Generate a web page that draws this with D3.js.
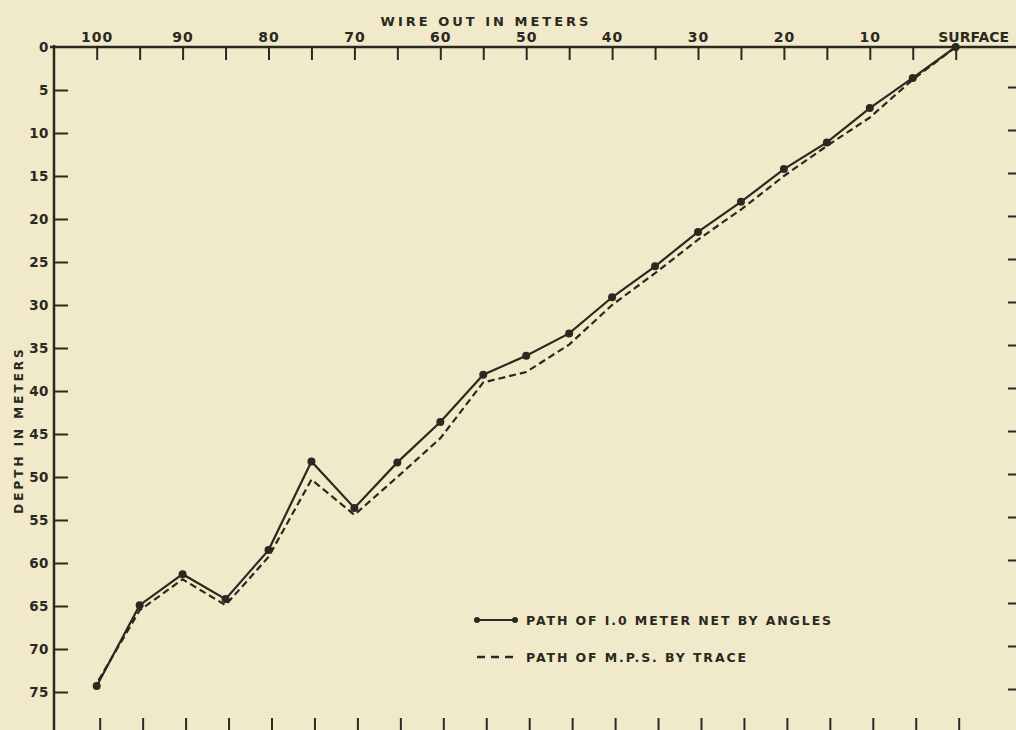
<!DOCTYPE html>
<html>
<head>
<meta charset="utf-8">
<script src="https://cdn.jsdelivr.net/npm/d3@7"></script>
<style>
  html, body { margin: 0; padding: 0; background: #f0eaca; }
  svg { display: block; }
  text { font-family: "DejaVu Sans", sans-serif; font-weight: bold; fill: #2b2820; }
</style>
</head>
<body>
<svg width="1016" height="730"></svg>
<script>
// wire out (m) at each reading, depth of the 1.0 m net (by angles) and of the M.P.S. (by trace)
const wireOut = [0, 5, 10, 15, 20, 25, 30, 35, 40, 45, 50, 55, 60, 65, 70, 75, 80, 85, 90, 95, 100];
const netDepth = [0, 3.6, 7.1, 11.1, 14.2, 18.0, 21.5, 25.5, 29.1, 33.3, 35.9, 38.1, 43.6, 48.3, 53.6, 48.2, 58.5, 64.2, 61.3, 64.9, 74.3];
const mpsDepth = [0, 3.8, 8.2, 11.5, 15.0, 18.9, 22.4, 26.3, 30.0, 34.6, 37.8, 39.0, 45.5, 50.0, 54.4, 50.3, 59.3, 64.9, 61.9, 65.5, 74.0];

const xTicks = d3.range(0, 101, 5);
const xLabels = {0: 'SURFACE', 10: '10', 20: '20', 30: '30', 40: '40', 50: '50', 60: '60', 70: '70', 80: '80', 90: '90', 100: '100'};
const yTicks = d3.range(0, 76, 5);
const legendLabels = ['PATH OF I.0 METER NET BY ANGLES', 'PATH OF M.P.S. BY TRACE'];

const ink = '#2b2820';
let svg = d3.select('svg');

let x = d3.scaleLinear().domain([0, 100]).range([955.7, 96.7]);
let y = d3.scaleLinear().domain([0, 75]).range([47, 692]);

// frame lines
svg.append('line').attr('x1', 50).attr('x2', 1016).attr('y1', 47).attr('y2', 47)
  .attr('stroke', ink).attr('stroke-width', 2.5);
svg.append('line').attr('x1', 54).attr('x2', 54).attr('y1', 45).attr('y2', 730)
  .attr('stroke', ink).attr('stroke-width', 2.5);

// top axis (wire out)
let topAxis = svg.append('g').attr('transform', 'translate(0,47)')
  .call(d3.axisTop(x).tickValues(xTicks).tickSize(-13).tickPadding(5)
    .tickFormat(d => xLabels[d] || ''));
topAxis.select('.domain').remove();
topAxis.selectAll('line').attr('stroke', ink).attr('stroke-width', 2);
topAxis.selectAll('text').attr('font-size', 14).style('letter-spacing', '1px')
  .attr('fill', ink);
topAxis.selectAll('.tick').filter(d => d === 0).select('text')
  .attr('text-anchor', 'start').attr('dx', -18).style('letter-spacing', '0px');

// bottom ticks (axis line lies below the picture)
let botAxis = svg.append('g').attr('transform', 'translate(3,731)')
  .call(d3.axisBottom(x).tickValues(xTicks).tickSize(-13).tickFormat(''));
botAxis.select('.domain').remove();
botAxis.selectAll('line').attr('stroke', ink).attr('stroke-width', 2);

// left axis (depth)
let leftAxis = svg.append('g').attr('transform', 'translate(54,0)')
  .call(d3.axisLeft(y).tickValues(yTicks).tickSize(-14).tickPadding(5));
leftAxis.select('.domain').remove();
leftAxis.selectAll('line').attr('stroke', ink).attr('stroke-width', 2);
leftAxis.selectAll('.tick').filter(d => d === 0).select('line').remove();
leftAxis.selectAll('text').attr('font-size', 13.5).attr('fill', ink).style('letter-spacing', '0.5px');

// right ticks (axis line lies beyond the picture)
let rightAxis = svg.append('g').attr('transform', 'translate(1017,-3)')
  .call(d3.axisRight(y).tickValues(yTicks.slice(1)).tickSize(-9).tickFormat(''));
rightAxis.select('.domain').remove();
rightAxis.selectAll('line').attr('stroke', ink).attr('stroke-width', 2);

// axis titles
svg.append('text').attr('x', 486).attr('y', 26).attr('text-anchor', 'middle')
  .attr('font-size', 13).style('letter-spacing', '3px').text('WIRE OUT IN METERS');
svg.append('text').attr('transform', 'translate(23,430) rotate(-90)').attr('text-anchor', 'middle')
  .attr('font-size', 12).style('letter-spacing', '3px').text('DEPTH IN METERS');

// data lines
let idx = d3.range(wireOut.length);
let line = d3.line().x(i => x(wireOut[i]));

svg.append('path')
  .attr('d', line.y(i => y(mpsDepth[i]))(idx))
  .attr('fill', 'none').attr('stroke', ink).attr('stroke-width', 2.2)
  .attr('stroke-dasharray', '7,4');

svg.append('path')
  .attr('d', line.y(i => y(netDepth[i]))(idx))
  .attr('fill', 'none').attr('stroke', ink).attr('stroke-width', 2.2);

svg.selectAll('circle.pt')
  .data(idx)
  .enter()
  .append('circle')
    .attr('class', 'pt')
    .attr('cx', i => x(wireOut[i]))
    .attr('cy', i => y(netDepth[i]))
    .attr('r', 4)
    .attr('fill', ink);

// legend
let legend = svg.append('g').attr('transform', 'translate(477,620)');
legend.append('line').attr('x1', 0).attr('x2', 38).attr('y1', 0).attr('y2', 0)
  .attr('stroke', ink).attr('stroke-width', 2.2);
legend.selectAll('circle').data([0, 38]).enter().append('circle')
  .attr('cx', d => d).attr('cy', 0).attr('r', 3).attr('fill', ink);
legend.append('line').attr('x1', 0).attr('x2', 38).attr('y1', 37).attr('y2', 37)
  .attr('stroke', ink).attr('stroke-width', 2.4).attr('stroke-dasharray', '8,6');
legend.selectAll('text.lab').data(legendLabels).enter().append('text')
  .attr('class', 'lab')
  .attr('x', 49).attr('y', (d, i) => i * 37 + 5)
  .attr('font-size', 12.5).style('letter-spacing', '1.9px')
  .text(d => d);
</script>
</body>
</html>
